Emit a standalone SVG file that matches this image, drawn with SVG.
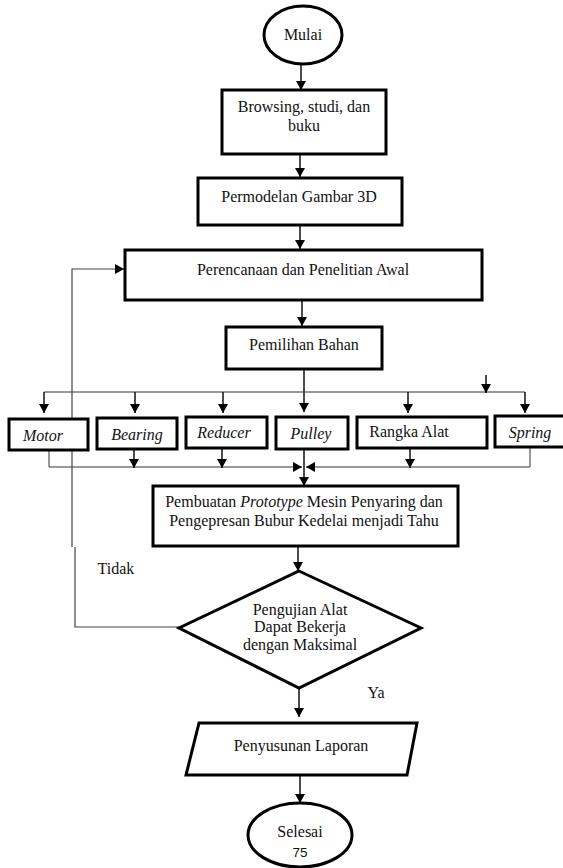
<svg xmlns="http://www.w3.org/2000/svg" width="563" height="868" viewBox="0 0 563 868">
<style>
.box{fill:#fff;stroke:#000;stroke-width:3}
.t{font-size:16px;fill:#111;text-anchor:middle}
.i{font-style:italic}
.c{fill:none;stroke:#111;stroke-width:1.5}
.thin{fill:none;stroke:#333;stroke-width:1}
.loop{fill:none;stroke:#444;stroke-width:1.2}
</style>
<defs>
<marker id="ah" markerUnits="userSpaceOnUse" markerWidth="9" markerHeight="10" refX="9" refY="5" orient="auto">
<path d="M0,0 L9,5 L0,10 z" fill="#000"/>
</marker>
</defs>
<rect width="563" height="868" fill="#fff"/>

<g font-family="'Liberation Serif', 'DejaVu Serif', serif">
<g id="connectors">
<line class="c" x1="301" y1="64" x2="301" y2="90" marker-end="url(#ah)"/>
<line class="c" x1="300" y1="154" x2="300" y2="177" marker-end="url(#ah)"/>
<line class="c" x1="300" y1="225" x2="300" y2="249" marker-end="url(#ah)"/>
<line class="c" x1="302" y1="300" x2="302" y2="326" marker-end="url(#ah)"/>
<line class="c" x1="304" y1="369" x2="304" y2="412" marker-end="url(#ah)"/>
<line class="thin" x1="44" y1="392" x2="525" y2="392"/>
<line class="c" x1="44" y1="392" x2="44" y2="413" marker-end="url(#ah)"/>
<line class="c" x1="135" y1="392" x2="135" y2="413" marker-end="url(#ah)"/>
<line class="c" x1="223" y1="392" x2="223" y2="413" marker-end="url(#ah)"/>
<line class="c" x1="408" y1="392" x2="408" y2="413" marker-end="url(#ah)"/>
<line class="c" x1="525" y1="392" x2="525" y2="413" marker-end="url(#ah)"/>
<line class="c" x1="486" y1="375" x2="486" y2="393" marker-end="url(#ah)"/>
<line class="thin" x1="49" y1="450" x2="49" y2="467"/>
<line class="thin" x1="49" y1="467" x2="302" y2="467" marker-end="url(#ah)"/>
<line class="c" x1="134" y1="449" x2="134" y2="468" marker-end="url(#ah)"/>
<line class="c" x1="222" y1="448" x2="222" y2="468" marker-end="url(#ah)"/>
<line class="c" x1="410" y1="448" x2="410" y2="468" marker-end="url(#ah)"/>
<line class="thin" x1="530" y1="447" x2="530" y2="467"/>
<line class="thin" x1="530" y1="467" x2="306" y2="467" marker-end="url(#ah)"/>
<line class="c" x1="304" y1="449" x2="304" y2="486" marker-end="url(#ah)"/>
<line class="c" x1="298" y1="546" x2="298" y2="571" marker-end="url(#ah)"/>
<line class="c" x1="299" y1="688" x2="299" y2="717" marker-end="url(#ah)"/>
<line class="c" x1="300" y1="775" x2="300" y2="803" marker-end="url(#ah)"/>
<polyline class="loop" points="179,627 75,627 75,547"/>
<polyline class="loop" points="72,547 72,269 124,269" marker-end="url(#ah)"/>
<text class="t" x="116" y="574" font-size="15">Tidak</text>
<text class="t" x="376" y="698" font-size="15">Ya</text>
</g>

<g id="mulai">
<ellipse class="box" cx="303" cy="35" rx="39" ry="29"/>
<text class="t" x="303" y="40">Mulai</text>
</g>
<g id="browsing">
<rect class="box" x="222" y="90" width="164" height="64"/>
<text class="t" x="304" y="112">Browsing, studi, dan</text>
<text class="t" x="304" y="131">buku</text>
</g>
<g id="permodelan">
<rect class="box" x="198" y="178" width="204" height="47"/>
<text class="t" x="299" y="202">Permodelan Gambar 3D</text>
</g>
<g id="perencanaan">
<rect class="box" x="125" y="250" width="357" height="50"/>
<text class="t" x="303" y="275">Perencanaan dan Penelitian Awal</text>
</g>
<g id="pemilihan">
<rect class="box" x="226" y="327" width="156" height="42"/>
<text class="t" x="304" y="350">Pemilihan Bahan</text>
</g>
<g id="motor">
<rect class="box" x="9" y="419" width="79" height="31"/>
<text class="t i" x="43" y="441">Motor</text>
</g>
<g id="bearing">
<rect class="box" x="97" y="418" width="80" height="31"/>
<text class="t i" x="137" y="440">Bearing</text>
</g>
<g id="reducer">
<rect class="box" x="186" y="417" width="81" height="31"/>
<text class="t i" x="224" y="438" font-size="14.5">Reducer</text>
</g>
<g id="pulley">
<rect class="box" x="276" y="417" width="72" height="32"/>
<text class="t i" x="311" y="439">Pulley</text>
</g>
<g id="rangka">
<rect class="box" x="357" y="417" width="130" height="31"/>
<text class="t" x="409" y="437" font-size="14.5">Rangka Alat</text>
</g>
<g id="spring">
<rect class="box" x="495" y="416" width="70" height="31"/>
<text class="t i" x="530" y="438" font-size="17">Spring</text>
</g>
<g id="prototype">
<rect class="box" x="153" y="486" width="305" height="60"/>
<text class="t" x="304" y="507">Pembuatan <tspan class="i">Prototype</tspan> Mesin Penyaring dan</text>
<text class="t" x="304" y="526">Pengepresan Bubur Kedelai menjadi Tahu</text>
</g>
<g id="pengujian">
<polygon class="box" points="299,571 421,628 299,688 179,628"/>
<text class="t" x="300" y="615">Pengujian Alat</text>
<text class="t" x="300" y="632">Dapat Bekerja</text>
<text class="t" x="300" y="650">dengan Maksimal</text>
</g>
<g id="penyusunan">
<polygon class="box" points="199,723 417,723 407,775 186,775"/>
<text class="t" x="301" y="751">Penyusunan Laporan</text>
</g>
<g id="selesai">
<ellipse class="box" cx="300" cy="835" rx="52" ry="32"/>
<text class="t" x="300" y="837">Selesai</text>
<text x="300" y="857" font-family="'Liberation Sans', Arial, sans-serif" font-size="13.5" text-anchor="middle" fill="#111">75</text>
</g>
</g>
</svg>
